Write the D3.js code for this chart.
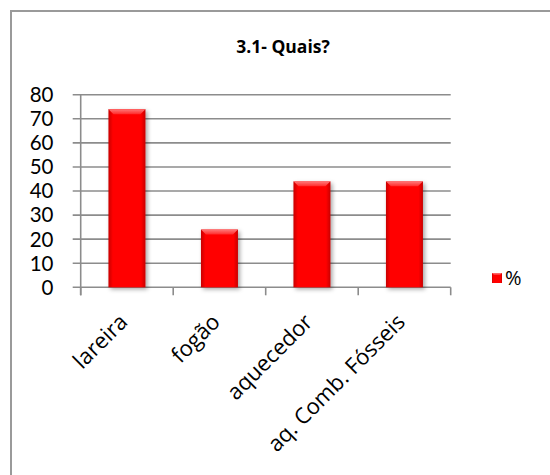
<!DOCTYPE html>
<html>
<head>
<meta charset="utf-8">
<script src="https://cdn.jsdelivr.net/npm/d3@7"></script>
<style>
  html, body { margin: 0; padding: 0; background: #fff; }
  svg { display: block; }
</style>
</head>
<body>
<svg id="chart" width="550" height="475"></svg>
<script>
// Heating sources chart data
const categories = ["lareira", "fogão", "aquecedor", "aq. Comb. Fósseis"];
const values = [74, 24, 44, 44];
const yTicks = [0, 10, 20, 30, 40, 50, 60, 70, 80];
const seriesName = "%";
const title = "3.1- Quais?";

const FONT = "'Open Sans', 'DejaVu Sans', sans-serif";
const TICK_FONT = "Lato, 'Open Sans', sans-serif";
const svg = d3.select("#chart");

// Outer chart frame
svg.append("rect")
  .attr("x", 11).attr("y", 11)
  .attr("width", 560).attr("height", 480)
  .attr("fill", "#fff")
  .attr("stroke", "#9a9a9a").attr("stroke-width", 2);

const plot = { left: 80.7, right: 450.7, top: 94.7, bottom: 287.3 };

const x = d3.scaleBand()
  .domain(categories)
  .range([plot.left, plot.right])
  .paddingInner(0.6)
  .paddingOuter(0.3);

const y = d3.scaleLinear()
  .domain([0, 80])
  .range([plot.bottom, plot.top]);

const defs = svg.append("defs");

// Bar shading: darker sides, bright centre
const grad = defs.append("linearGradient").attr("id", "barGrad")
  .attr("x1", "0").attr("x2", "1").attr("y1", "0").attr("y2", "0");
grad.append("stop").attr("offset", "0").attr("stop-color", "#c80000");
grad.append("stop").attr("offset", "0.12").attr("stop-color", "#ff0000");
grad.append("stop").attr("offset", "0.88").attr("stop-color", "#ff0000");
grad.append("stop").attr("offset", "1").attr("stop-color", "#c80000");

const topGrad = defs.append("linearGradient").attr("id", "topGrad")
  .attr("x1", "0").attr("x2", "0").attr("y1", "0").attr("y2", "1");
topGrad.append("stop").attr("offset", "0").attr("stop-color", "#ff7a7a");
topGrad.append("stop").attr("offset", "1").attr("stop-color", "#ff2a2a");

const shadow = defs.append("filter").attr("id", "shadow")
  .attr("x", "-30%").attr("y", "-10%").attr("width", "160%").attr("height", "130%");
shadow.append("feDropShadow")
  .attr("dx", 2).attr("dy", 2).attr("stdDeviation", 2)
  .attr("flood-color", "#000").attr("flood-opacity", 0.35);

// Horizontal gridlines (with tick stubs left of the axis)
const yAxis = d3.axisLeft(y).tickValues(yTicks).tickSize(0).tickFormat("");
svg.append("g").selectAll("line.grid")
  .data(yTicks)
  .join("line")
  .attr("class", "grid")
  .attr("x1", plot.left - 8).attr("x2", plot.right)
  .attr("y1", d => y(d)).attr("y2", d => y(d))
  .attr("stroke", "#8c8c8c").attr("stroke-width", 1.6);

// Y-axis line
svg.append("g")
  .attr("transform", `translate(${plot.left},0)`)
  .call(yAxis)
  .call(g => g.select(".domain")
    .attr("d", `M0,${plot.top}V${plot.bottom + 8}`)
    .attr("stroke", "#8c8c8c").attr("stroke-width", 1.6));

// Y tick labels
svg.append("g").selectAll("text")
  .data(yTicks)
  .join("text")
  .attr("x", 53.5)
  .attr("y", d => y(d))
  .attr("dy", "0.36em")
  .attr("text-anchor", "end")
  .attr("font-family", TICK_FONT)
  .attr("font-size", 20.5)
  .attr("fill", "#000")
  .text(d => d);

// Category tick marks along the bottom
const catEdges = categories.map(c => x(c) - x.step() * x.paddingOuter()).concat([plot.right]);
svg.append("g").selectAll("line")
  .data(catEdges)
  .join("line")
  .attr("x1", d => d).attr("x2", d => d)
  .attr("y1", plot.bottom).attr("y2", plot.bottom + 8)
  .attr("stroke", "#8c8c8c").attr("stroke-width", 1.6);

// Bars with bevelled top
const bars = svg.append("g").selectAll("g.bar")
  .data(categories.map((c, i) => ({ c, v: values[i] })))
  .join("g").attr("class", "bar");

bars.append("rect")
  .attr("x", d => x(d.c))
  .attr("y", d => y(d.v))
  .attr("width", x.bandwidth())
  .attr("height", d => y(0) - y(d.v))
  .attr("fill", "url(#barGrad)")
  .attr("filter", "url(#shadow)");

bars.append("path")
  .attr("d", d => {
    const x0 = x(d.c), x1 = x0 + x.bandwidth(), t = y(d.v), b = 5;
    return `M${x0},${t}H${x1}L${x1 - b},${t + b}H${x0 + b}Z`;
  })
  .attr("fill", "url(#topGrad)");

// Rotated category labels
svg.append("g").selectAll("text")
  .data(categories)
  .join("text")
  .attr("transform", d => `translate(${x(d) + x.bandwidth() / 2 + 2},${plot.bottom + 36}) rotate(-45)`)
  .attr("text-anchor", "end")
  .attr("font-family", FONT)
  .attr("font-size", 22)
  .attr("fill", "#000")
  .text(d => d);

// Title
svg.append("text")
  .attr("x", 283).attr("y", 53)
  .attr("text-anchor", "middle")
  .attr("font-family", FONT)
  .attr("font-weight", "bold")
  .attr("font-size", 17.5)
  .attr("fill", "#000")
  .text(title);

// Legend
const legend = svg.append("g").attr("transform", "translate(492,273)");
legend.append("rect")
  .attr("width", 10).attr("height", 10)
  .attr("fill", "url(#barGrad)");
legend.append("path")
  .attr("d", "M0,0H10L8,2H2Z")
  .attr("fill", "url(#topGrad)");
legend.append("text")
  .attr("x", 13).attr("y", 5)
  .attr("dy", "0.36em")
  .attr("font-family", FONT)
  .attr("font-size", 20)
  .attr("fill", "#000")
  .text(seriesName);
</script>
</body>
</html>
